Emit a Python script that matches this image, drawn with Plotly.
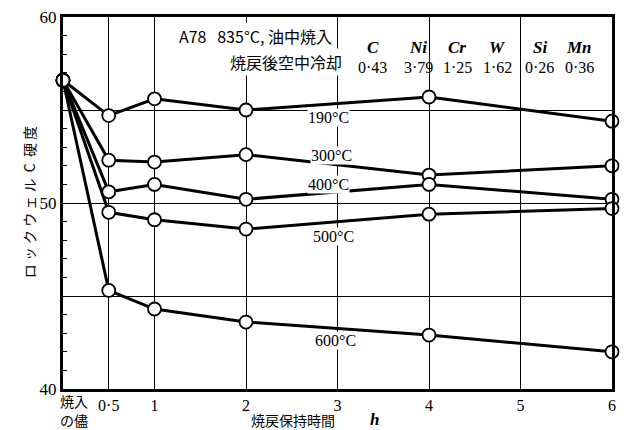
import plotly.graph_objects as go

hours = [0, 0.5, 1, 2, 4, 6]
temps = ["190°C", "300°C", "400°C", "500°C", "600°C"]
hardness = {
    "190°C": [56.6, 54.7, 55.6, 55.0, 55.7, 54.4],
    "300°C": [56.6, 52.3, 52.2, 52.6, 51.5, 52.0],
    "400°C": [56.6, 50.6, 51.0, 50.2, 51.0, 50.2],
    "500°C": [56.6, 49.5, 49.1, 48.6, 49.4, 49.7],
    "600°C": [56.6, 45.3, 44.3, 43.6, 42.9, 42.0],
}
label_pos = {
    "190°C": (2.90, 54.6),
    "300°C": (2.93, 52.55),
    "400°C": (2.90, 51.0),
    "500°C": (2.96, 48.2),
    "600°C": (2.98, 42.6),
}
x_tickvals = [0, 0.5, 1, 2, 3, 4, 5, 6]
x_ticktext = ["", "0·5", "1", "2", "3", "4", "5", "6"]
y_tickvals = [40, 45, 50, 55, 60]
y_ticktext = ["40", "", "50", "", "60"]
elements = ["C", "Ni", "Cr", "W", "Si", "Mn"]
contents = ["0·43", "3·79", "1·25", "1·62", "0·26", "0·36"]

SERIF = "Liberation Serif, Noto Sans CJK JP, serif"
JP = "Noto Sans CJK JP, Liberation Serif, serif"

fig = go.Figure()
for t in temps:
    fig.add_trace(go.Scatter(x=hours, y=hardness[t], mode="lines",
                             line=dict(color="black", width=3),
                             showlegend=False, cliponaxis=False, hoverinfo="skip"))
for t in temps:
    fig.add_trace(go.Scatter(x=hours, y=hardness[t], mode="markers",
                             marker=dict(symbol="circle", size=13, color="white",
                                         line=dict(color="black", width=1.8)),
                             showlegend=False, cliponaxis=False))

def pap_x(px):
    return (px - 63) / (616 - 63)

def pap_y(py):
    return 1 - (py - 13) / (389 - 13)

ann = []
for t in temps:
    px_, py_ = label_pos[t]
    ann.append(dict(x=px_, y=py_, xref="x", yref="y", xanchor="center", yanchor="middle",
                    text=t, showarrow=False,
                    font=dict(family=SERIF, size=16, color="black"),
                    bgcolor="white", borderpad=0))

ann.append(dict(x=pap_x(178), y=pap_y(32), xref="paper", yref="paper",
                xanchor="left", yanchor="middle",
                text="A78&nbsp;&nbsp;&nbsp;835°C, 油中焼入", showarrow=False,
                font=dict(family=JP, size=16, color="black"), bgcolor="white", borderpad=1))
ann.append(dict(x=pap_x(229), y=pap_y(58), xref="paper", yref="paper",
                xanchor="left", yanchor="middle",
                text="焼戻後空中冷却", showarrow=False,
                font=dict(family=JP, size=16, color="black"), bgcolor="white", borderpad=1))
el_x = [375, 421, 460, 501, 543, 583]
for ex, el, ct in zip(el_x, elements, contents):
    ann.append(dict(x=pap_x(ex), y=pap_y(44), xref="paper", yref="paper",
                    xanchor="center", yanchor="middle",
                    text="<b><i>%s</i></b>" % el, showarrow=False,
                    font=dict(family=SERIF, size=17, color="black")))
    ann.append(dict(x=pap_x(ex), y=pap_y(64), xref="paper", yref="paper",
                    xanchor="center", yanchor="middle",
                    text=ct, showarrow=False,
                    font=dict(family=SERIF, size=16, color="black")))

# x=0 tick label (as quenched)
ann.append(dict(x=pap_x(59), y=pap_y(401), xref="paper", yref="paper",
                xanchor="left", yanchor="middle",
                text="焼入", showarrow=False,
                font=dict(family=JP, size=14, color="black"), borderpad=0))
ann.append(dict(x=pap_x(59), y=pap_y(420), xref="paper", yref="paper",
                xanchor="left", yanchor="middle",
                text="の儘", showarrow=False,
                font=dict(family=JP, size=14, color="black"), borderpad=0))
# x title
ann.append(dict(x=pap_x(251), y=pap_y(420), xref="paper", yref="paper",
                xanchor="left", yanchor="middle",
                text="焼戻保持時間", showarrow=False,
                font=dict(family=JP, size=14, color="black"), borderpad=0))
ann.append(dict(x=pap_x(377), y=pap_y(420), xref="paper", yref="paper",
                xanchor="center", yanchor="middle",
                text="<b><i>h</i></b>", showarrow=False,
                font=dict(family=SERIF, size=17, color="black"), borderpad=0))
# y title
ann.append(dict(x=pap_x(29), y=pap_y(200), xref="paper", yref="paper",
                xanchor="center", yanchor="middle",
                text="ロ ッ ク ウ ェ ル  C  硬 度", textangle=-90, showarrow=False,
                font=dict(family=JP, size=14, color="black")))

fig.update_layout(
    width=624, height=430,
    margin=dict(l=63, r=8, t=13, b=41),
    paper_bgcolor="white", plot_bgcolor="white",
    annotations=ann,
    xaxis=dict(range=[0, 6], tickvals=x_tickvals, ticktext=x_ticktext,
               showgrid=True, gridcolor="black", gridwidth=1,
               showline=True, linecolor="black", linewidth=3, mirror=True,
               ticks="", ticklen=0, zeroline=False,
               tickfont=dict(family=SERIF, size=16, color="black")),
    yaxis=dict(range=[40, 60], tickvals=y_tickvals, ticktext=y_ticktext,
               showgrid=True, gridcolor="black", gridwidth=1,
               showline=True, linecolor="black", linewidth=3, mirror=True,
               ticks="inside", ticklen=4, tickcolor="black", zeroline=False,
               minor=dict(dtick=1, ticks="inside", ticklen=4, tickcolor="black",
                          showgrid=False),
               tickfont=dict(family=SERIF, size=17, color="black")),
)
fig.write_html("out.html")
